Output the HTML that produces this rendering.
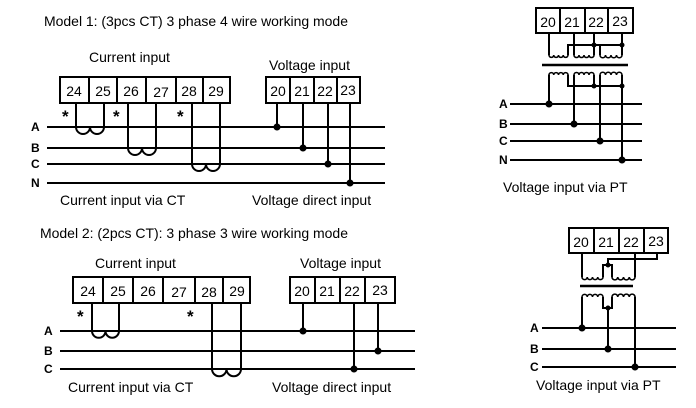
<!DOCTYPE html>
<html><head><meta charset="utf-8"><style>
html,body{margin:0;padding:0;background:#fff;width:696px;height:408px;overflow:hidden}
svg{display:block}
text{font-family:"Liberation Sans",Arial,sans-serif;fill:#000}
.t{font-size:14px}
.n{font-size:14px;text-anchor:middle}
.l{font-size:12px;font-weight:bold}
.s{font-size:17px;font-weight:bold}
</style></head><body>
<svg id="s" width="696" height="408" viewBox="0 0 696 408" xmlns="http://www.w3.org/2000/svg">
<g fill="none" stroke="#000" stroke-width="2">
<rect x="60" y="77" width="170" height="26"/>
<path d="M89 77V103M117 77V103M146 77V103M176 77V103M203 77V103"/>
<rect x="266" y="77" width="94" height="26"/>
<path d="M290 77V103M314 77V103M337 77V103"/>
<path d="M47 127H385M47 148H385M47 164H385M47 183H385"/>
<path d="M76 103V127A7 7 0 0 0 90 127A7 7 0 0 0 104 127V103"/>
<path d="M128 103V148A7 7 0 0 0 142 148A7 7 0 0 0 156 148V103"/>
<path d="M192 103V164A7 7 0 0 0 206 164A7 7 0 0 0 220 164V103"/>
<path d="M277 103V127M303 103V148M328 103V164M350 103V183"/>
<rect x="73" y="277" width="177" height="26"/>
<path d="M103 277V303M133 277V303M163 277V303M195 277V303M223 277V303"/>
<rect x="290" y="277" width="105" height="26"/>
<path d="M315 277V303M340 277V303M365 277V303"/>
<path d="M60 331H415M60 351H415M60 369H415"/>
<path d="M92 303V331A6.75 6.75 0 0 0 105.5 331A6.75 6.75 0 0 0 119 331V303"/>
<path d="M212 303V369A7.25 7.25 0 0 0 226.5 369A7.25 7.25 0 0 0 241 369V303"/>
<path d="M303 303V331M354 303V369M378 303V351"/>
<rect x="536" y="8" width="97" height="25"/>
<path d="M560 8V33M585 8V33M608 8V33"/>
<path d="M549 33V55M568 55V45H622M574 33V55M594 33V55M600 55V45M622 33V55"/>
<path d="M542 65H628" stroke-width="2.5"/>
<path d="M549 104V75M568 75V86H622M574 124V75M594 75V86M600 141V75M622 160V75"/>
<path d="M510 104H642M510 124H642M510 141H642M510 160H642"/>
<rect x="569" y="228" width="99" height="25"/>
<path d="M594 228V253M619 228V253M644 228V253"/>
<path d="M582 253V277M603 277V265H612V277M608 265V259H657V253M635 253V277"/>
<path d="M580 286H633" stroke-width="2.5"/>
<path d="M582 328V297M603 297V308H612V297M608 308V349M635 297V367"/>
<path d="M542 328H676M542 349H676M542 367H676"/>
<g id="coils"></g>
</g>
<g fill="#000">
<circle cx="277" cy="127" r="3.5"/><circle cx="303" cy="148" r="3.5"/><circle cx="328" cy="164" r="3.5"/><circle cx="350" cy="183" r="3.5"/>
<circle cx="303" cy="331" r="3.5"/><circle cx="378" cy="351" r="3.5"/><circle cx="354" cy="369" r="3.5"/>
<circle cx="594" cy="45" r="2.5"/><circle cx="622" cy="45" r="2.5"/><circle cx="594" cy="86" r="2.5"/><circle cx="622" cy="86" r="2.5"/>
<circle cx="549" cy="104" r="3.5"/><circle cx="574" cy="124" r="3.5"/><circle cx="600" cy="141" r="3.5"/><circle cx="622" cy="160" r="3.5"/>
<circle cx="608" cy="265" r="2.5"/><circle cx="608" cy="308" r="2.5"/>
<circle cx="582" cy="328" r="3.5"/><circle cx="608" cy="349" r="3.5"/><circle cx="635" cy="367" r="3.5"/>
</g>
<text class="t" x="44" y="26" textLength="304">Model 1: (3pcs CT) 3 phase 4 wire working mode</text>
<text class="t" x="89" y="62">Current input</text>
<text class="t" x="269" y="70">Voltage input</text>
<text class="n" x="74" y="96">24</text><text class="n" x="103" y="96">25</text><text class="n" x="131" y="96">26</text><text class="n" x="161" y="97">27</text><text class="n" x="189" y="96">28</text><text class="n" x="216" y="96">29</text>
<text class="n" x="278" y="96">20</text><text class="n" x="302" y="96">21</text><text class="n" x="325" y="96">22</text><text class="n" x="348" y="95">23</text>
<text class="s" x="62" y="122">*</text><text class="s" x="113" y="122">*</text><text class="s" x="177" y="122">*</text>
<text class="l" x="31" y="131">A</text><text class="l" x="31" y="152">B</text><text class="l" x="31" y="168">C</text><text class="l" x="31" y="187">N</text>
<text class="t" x="60" y="205">Current input via CT</text>
<text class="t" x="252" y="205">Voltage direct input</text>
<text class="t" x="40" y="238" textLength="308">Model 2: (2pcs CT): 3 phase 3 wire working mode</text>
<text class="t" x="95" y="268">Current input</text>
<text class="t" x="300" y="268">Voltage input</text>
<text class="n" x="88" y="296">24</text><text class="n" x="118" y="296">25</text><text class="n" x="148" y="296">26</text><text class="n" x="179" y="297">27</text><text class="n" x="209" y="297">28</text><text class="n" x="237" y="296">29</text>
<text class="n" x="302" y="296">20</text><text class="n" x="327" y="296">21</text><text class="n" x="352" y="296">22</text><text class="n" x="380" y="295">23</text>
<text class="s" x="77" y="322">*</text><text class="s" x="187" y="322">*</text>
<text class="l" x="44" y="335">A</text><text class="l" x="44" y="355">B</text><text class="l" x="44" y="373">C</text>
<text class="t" x="68" y="392">Current input via CT</text>
<text class="t" x="272" y="392">Voltage direct input</text>
<text class="n" x="548" y="27">20</text><text class="n" x="572" y="27">21</text><text class="n" x="596" y="27">22</text><text class="n" x="620" y="26">23</text>
<text class="l" x="499" y="108">A</text><text class="l" x="499" y="128">B</text><text class="l" x="499" y="145">C</text><text class="l" x="499" y="164">N</text>
<text class="t" x="503" y="192">Voltage input via PT</text>
<text class="n" x="581" y="247">20</text><text class="n" x="606" y="247">21</text><text class="n" x="631" y="247">22</text><text class="n" x="656" y="246">23</text>
<text class="l" x="530" y="332">A</text><text class="l" x="530" y="353">B</text><text class="l" x="530" y="371">C</text>
<text class="t" x="536" y="390">Voltage input via PT</text>
</svg>
<script>
(function(){
var g=document.getElementById('coils'),d='';
function coil(x1,x2,y,up){var n=4,w=(x2-x1)/n,r=w/2;d+='M'+x1+' '+y;for(var i=0;i<n;i++){d+='A'+r+' '+r+' 0 0 '+(up?1:0)+' '+(x1+w*(i+1))+' '+y;}}
coil(549,568,55,0);coil(574,594,55,0);coil(600,622,55,0);
coil(549,568,75,1);coil(574,594,75,1);coil(600,622,75,1);
coil(582,603,277,0);coil(612,635,277,0);
coil(582,603,297,1);coil(612,635,297,1);
var p=document.createElementNS('http://www.w3.org/2000/svg','path');p.setAttribute('d',d);p.setAttribute('stroke-width','1.6');g.appendChild(p);
})();
</script>
</body></html>
